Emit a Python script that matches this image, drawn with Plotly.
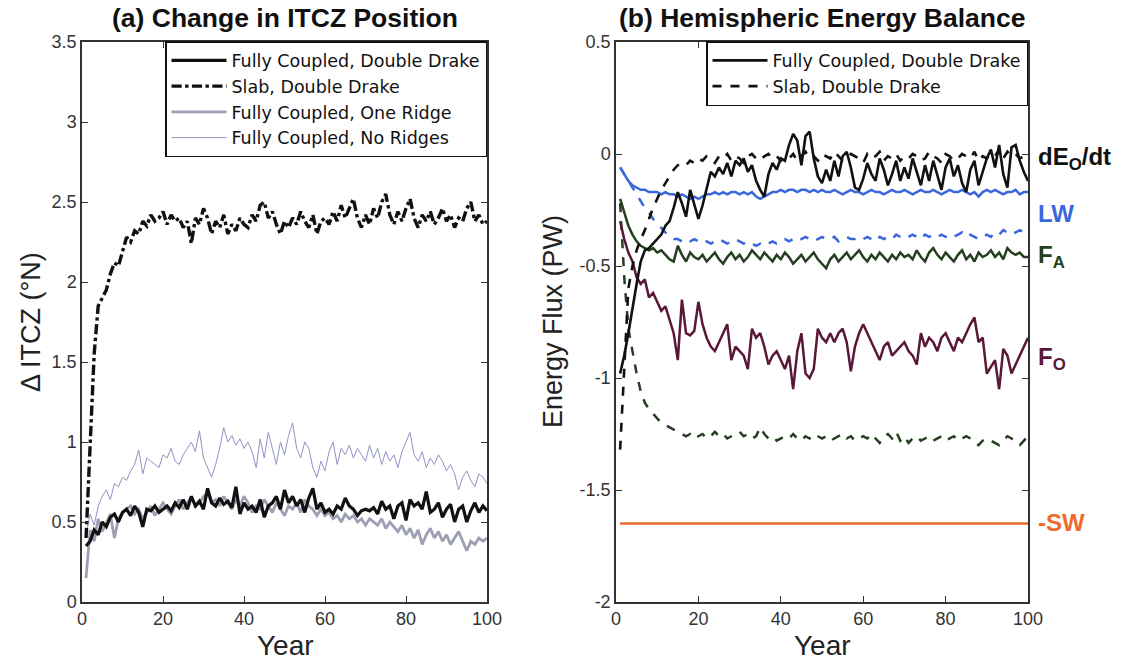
import plotly.graph_objects as go

years = list(range(1, 101))

# ---------------- Panel (a): Change in ITCZ position (deg N) ----------------
fc_double_drake = [0.35,0.38,0.45,0.42,0.50,0.47,0.53,0.55,0.50,0.56,
0.58,0.54,0.60,0.56,0.47,0.58,0.57,0.60,0.56,0.58,
0.60,0.57,0.62,0.59,0.64,0.58,0.66,0.60,0.63,0.58,
0.71,0.62,0.60,0.65,0.61,0.63,0.59,0.72,0.55,0.62,
0.58,0.60,0.56,0.64,0.53,0.60,0.62,0.66,0.58,0.70,
0.62,0.66,0.60,0.64,0.56,0.65,0.71,0.58,0.62,0.56,
0.58,0.55,0.60,0.58,0.65,0.60,0.58,0.54,0.57,0.58,
0.57,0.59,0.55,0.63,0.58,0.60,0.52,0.60,0.62,0.51,
0.64,0.60,0.62,0.58,0.69,0.56,0.58,0.62,0.53,0.58,
0.61,0.50,0.58,0.60,0.50,0.57,0.62,0.56,0.60,0.57]

slab_double_drake = [0.40,0.95,1.55,1.85,1.90,1.95,2.05,2.12,2.10,2.20,
2.28,2.25,2.32,2.30,2.38,2.35,2.42,2.38,2.40,2.44,
2.36,2.42,2.38,2.40,2.34,2.38,2.24,2.40,2.36,2.46,
2.40,2.30,2.38,2.34,2.42,2.30,2.36,2.32,2.40,2.36,
2.34,2.42,2.38,2.48,2.50,2.40,2.44,2.36,2.30,2.38,
2.34,2.40,2.36,2.44,2.38,2.34,2.42,2.30,2.38,2.40,
2.36,2.44,2.38,2.48,2.40,2.46,2.52,2.40,2.34,2.42,
2.36,2.46,2.40,2.50,2.55,2.42,2.36,2.44,2.38,2.46,
2.52,2.40,2.34,2.42,2.38,2.44,2.36,2.40,2.46,2.38,
2.42,2.34,2.40,2.38,2.46,2.50,2.38,2.42,2.36,2.38]

fc_one_ridge = [0.15,0.45,0.38,0.52,0.44,0.50,0.55,0.40,0.52,0.56,
0.58,0.60,0.55,0.58,0.52,0.56,0.60,0.54,0.58,0.62,
0.58,0.55,0.60,0.64,0.58,0.62,0.66,0.60,0.62,0.66,
0.68,0.62,0.64,0.60,0.66,0.62,0.58,0.64,0.60,0.66,
0.62,0.56,0.60,0.58,0.64,0.60,0.56,0.62,0.58,0.54,
0.60,0.58,0.62,0.56,0.64,0.60,0.58,0.54,0.58,0.54,
0.56,0.52,0.54,0.50,0.55,0.52,0.54,0.50,0.52,0.48,
0.52,0.50,0.48,0.52,0.46,0.50,0.47,0.44,0.48,0.42,
0.46,0.40,0.45,0.36,0.42,0.46,0.40,0.44,0.38,0.42,
0.36,0.40,0.44,0.38,0.32,0.38,0.36,0.40,0.38,0.40]

fc_no_ridges = [0.42,0.55,0.48,0.60,0.66,0.70,0.64,0.74,0.72,0.78,
0.76,0.82,0.86,0.95,0.80,0.90,0.88,0.86,0.84,0.92,
0.90,0.96,0.88,0.86,0.92,0.96,1.00,0.94,1.07,0.90,
0.84,0.78,0.86,0.96,1.09,1.00,1.04,0.98,1.02,0.96,
1.00,0.94,0.84,1.02,0.90,1.06,0.96,0.86,1.00,0.92,
1.04,1.12,0.96,0.90,1.00,0.96,0.84,0.78,0.88,0.82,
0.94,1.00,0.86,0.96,0.92,0.98,0.90,0.96,0.92,0.88,
0.98,0.90,0.96,0.86,0.94,0.88,0.92,0.84,0.94,1.00,
1.06,0.92,0.88,0.94,0.84,0.90,0.86,0.92,0.88,0.82,
0.86,0.80,0.70,0.78,0.82,0.76,0.72,0.80,0.78,0.74]

# ---------------- Panel (b): Hemispheric energy balance (PW) ----------------
dedt_fc = [-0.98,-0.90,-0.80,-0.68,-0.58,-0.48,-0.43,-0.42,-0.40,-0.38,
-0.36,-0.32,-0.30,-0.24,-0.17,-0.22,-0.28,-0.16,-0.22,-0.29,
-0.23,-0.15,-0.08,-0.10,-0.06,-0.09,-0.04,-0.10,-0.03,-0.05,
-0.02,-0.08,-0.05,-0.12,-0.16,-0.19,-0.09,-0.04,-0.07,-0.02,
-0.03,0.04,0.09,0.06,-0.05,0.08,0.10,-0.02,-0.10,-0.13,
-0.07,-0.12,-0.03,-0.10,-0.01,0.01,-0.06,-0.15,-0.16,-0.11,
-0.04,-0.09,-0.12,-0.02,-0.07,-0.14,-0.09,-0.03,-0.12,-0.06,
-0.11,-0.02,-0.08,-0.14,-0.05,-0.12,-0.03,-0.10,-0.16,-0.06,
-0.02,-0.10,-0.05,-0.13,-0.17,-0.07,-0.03,-0.14,-0.08,-0.02,
0.02,-0.06,0.04,-0.09,-0.15,0.03,0.04,-0.03,-0.08,-0.12]

dedt_slab = [-1.32,-0.95,-0.60,-0.50,-0.43,-0.38,-0.34,-0.29,-0.24,-0.20,
-0.16,-0.13,-0.10,-0.07,-0.05,-0.04,-0.05,-0.03,-0.04,-0.02,
-0.03,-0.01,-0.02,-0.04,-0.01,-0.02,0.00,-0.03,-0.01,-0.02,
-0.04,-0.01,0.00,-0.02,-0.03,-0.01,0.00,-0.02,-0.01,-0.03,
-0.01,-0.02,0.00,-0.03,-0.01,0.01,-0.02,-0.01,-0.03,0.00,
-0.01,-0.02,0.01,-0.01,-0.03,-0.02,0.00,-0.01,-0.02,-0.04,
0.00,-0.02,-0.01,0.01,-0.03,-0.01,-0.02,0.00,-0.03,-0.01,
-0.02,0.00,-0.01,-0.03,-0.02,0.01,-0.01,-0.02,-0.04,0.00,
-0.01,-0.03,-0.02,0.00,-0.01,-0.02,0.01,-0.03,-0.01,-0.02,
0.00,-0.01,0.02,-0.02,0.01,-0.01,0.00,-0.02,-0.01,-0.02]

lw_fc = [-0.06,-0.09,-0.12,-0.14,-0.15,-0.16,-0.16,-0.17,-0.17,-0.17,
-0.18,-0.17,-0.18,-0.18,-0.19,-0.18,-0.19,-0.20,-0.19,-0.20,
-0.19,-0.18,-0.18,-0.17,-0.18,-0.17,-0.18,-0.17,-0.17,-0.18,
-0.17,-0.18,-0.17,-0.19,-0.20,-0.19,-0.18,-0.17,-0.17,-0.16,
-0.17,-0.16,-0.16,-0.17,-0.16,-0.16,-0.17,-0.16,-0.17,-0.16,
-0.17,-0.17,-0.16,-0.17,-0.18,-0.17,-0.16,-0.17,-0.17,-0.18,
-0.17,-0.16,-0.17,-0.17,-0.18,-0.17,-0.16,-0.17,-0.17,-0.16,
-0.17,-0.18,-0.17,-0.16,-0.17,-0.17,-0.16,-0.17,-0.18,-0.17,
-0.16,-0.17,-0.17,-0.16,-0.17,-0.18,-0.17,-0.19,-0.17,-0.16,
-0.17,-0.16,-0.17,-0.18,-0.17,-0.17,-0.16,-0.18,-0.17,-0.17]

lw_slab = [-0.06,-0.09,-0.12,-0.15,-0.18,-0.21,-0.24,-0.26,-0.29,-0.31,
-0.33,-0.35,-0.37,-0.38,-0.38,-0.39,-0.38,-0.39,-0.38,-0.39,
-0.38,-0.39,-0.40,-0.39,-0.38,-0.39,-0.40,-0.39,-0.38,-0.39,
-0.40,-0.39,-0.40,-0.41,-0.40,-0.41,-0.40,-0.39,-0.40,-0.39,
-0.38,-0.39,-0.38,-0.39,-0.38,-0.37,-0.38,-0.39,-0.38,-0.37,
-0.38,-0.38,-0.37,-0.39,-0.38,-0.37,-0.38,-0.38,-0.37,-0.38,
-0.37,-0.38,-0.39,-0.37,-0.38,-0.37,-0.38,-0.36,-0.37,-0.38,
-0.37,-0.36,-0.37,-0.38,-0.36,-0.37,-0.36,-0.37,-0.36,-0.37,
-0.36,-0.37,-0.36,-0.35,-0.37,-0.36,-0.37,-0.38,-0.37,-0.36,
-0.37,-0.35,-0.36,-0.34,-0.35,-0.36,-0.35,-0.34,-0.35,-0.35]

fa_fc = [-0.20,-0.26,-0.32,-0.36,-0.39,-0.41,-0.42,-0.43,-0.42,-0.44,
-0.43,-0.45,-0.47,-0.48,-0.41,-0.45,-0.48,-0.44,-0.46,-0.47,
-0.45,-0.48,-0.46,-0.44,-0.47,-0.49,-0.46,-0.44,-0.47,-0.45,
-0.48,-0.46,-0.43,-0.45,-0.47,-0.44,-0.46,-0.48,-0.45,-0.47,
-0.44,-0.46,-0.49,-0.47,-0.45,-0.48,-0.46,-0.44,-0.47,-0.49,
-0.51,-0.47,-0.45,-0.48,-0.46,-0.44,-0.47,-0.45,-0.43,-0.46,
-0.48,-0.45,-0.47,-0.44,-0.46,-0.48,-0.45,-0.47,-0.44,-0.46,
-0.45,-0.47,-0.43,-0.46,-0.48,-0.44,-0.42,-0.45,-0.47,-0.44,
-0.46,-0.48,-0.45,-0.43,-0.47,-0.45,-0.48,-0.44,-0.46,-0.45,
-0.43,-0.46,-0.44,-0.47,-0.42,-0.44,-0.45,-0.44,-0.46,-0.46]

fa_slab = [-0.22,-0.55,-0.78,-0.88,-0.98,-1.06,-1.11,-1.14,-1.16,-1.18,
-1.20,-1.21,-1.22,-1.23,-1.24,-1.25,-1.26,-1.25,-1.27,-1.26,
-1.25,-1.27,-1.26,-1.24,-1.26,-1.25,-1.27,-1.26,-1.25,-1.24,
-1.26,-1.25,-1.27,-1.26,-1.22,-1.25,-1.27,-1.26,-1.28,-1.27,
-1.26,-1.27,-1.25,-1.27,-1.28,-1.26,-1.27,-1.25,-1.26,-1.27,
-1.26,-1.28,-1.27,-1.26,-1.25,-1.27,-1.26,-1.28,-1.27,-1.26,
-1.27,-1.25,-1.27,-1.29,-1.26,-1.25,-1.27,-1.24,-1.28,-1.26,
-1.29,-1.27,-1.26,-1.28,-1.27,-1.26,-1.28,-1.27,-1.26,-1.28,
-1.27,-1.26,-1.28,-1.27,-1.26,-1.27,-1.29,-1.30,-1.28,-1.27,
-1.28,-1.29,-1.30,-1.28,-1.26,-1.27,-1.29,-1.30,-1.28,-1.26]

fo_fc = [-0.30,-0.38,-0.44,-0.48,-0.55,-0.58,-0.56,-0.64,-0.62,-0.66,
-0.70,-0.68,-0.74,-0.80,-0.92,-0.65,-0.80,-0.81,-0.79,-0.66,
-0.76,-0.82,-0.86,-0.88,-0.84,-0.80,-0.76,-0.92,-0.86,-0.88,
-0.90,-0.96,-0.78,-0.82,-0.80,-0.86,-0.94,-0.90,-0.88,-0.92,
-0.96,-0.90,-1.05,-0.88,-0.80,-0.98,-1.00,-0.96,-0.78,-0.82,
-0.84,-0.80,-0.84,-0.80,-0.78,-0.84,-0.97,-0.86,-0.80,-0.76,
-0.80,-0.84,-0.88,-0.92,-0.86,-0.84,-0.90,-0.88,-0.86,-0.84,
-0.88,-0.90,-0.94,-0.80,-0.86,-0.82,-0.84,-0.88,-0.82,-0.80,
-0.84,-0.88,-0.82,-0.84,-0.80,-0.76,-0.73,-0.84,-0.82,-0.98,
-0.95,-0.92,-1.05,-0.87,-0.90,-0.98,-0.94,-0.90,-0.86,-0.82]

sw_years = [1, 100]
neg_sw = [-1.65, -1.65]

# tick labels
x_ticks = [0, 20, 40, 60, 80, 100]
x_ticktext = ["0", "20", "40", "60", "80", "100"]
ya_ticks = [0, 0.5, 1, 1.5, 2, 2.5, 3, 3.5]
ya_ticktext = ["0", "0.5", "1", "1.5", "2", "2.5", "3", "3.5"]
yb_ticks = [-2, -1.5, -1, -0.5, 0, 0.5]
yb_ticktext = ["-2", "-1.5", "-1", "-0.5", "0", "0.5"]

FONT = "Liberation Sans, Arial, Helvetica, sans-serif"
LEGFONT = "DejaVu Sans, Liberation Sans, sans-serif"
BLACK = "#111111"
BLUE = "#3a68dc"
GREEN = "#253f20"
MAROON = "#5a1838"
ORANGE = "#ee6a2c"

fig = go.Figure()

# panel (a)
fig.add_trace(go.Scatter(x=years, y=fc_no_ridges, mode="lines", name="Fully Coupled, No Ridges",
                         line=dict(color="#8f93c4", width=1), xaxis="x", yaxis="y",
                         legend="legend", legendrank=4))
fig.add_trace(go.Scatter(x=years, y=fc_one_ridge, mode="lines", name="Fully Coupled, One Ridge",
                         line=dict(color="#9d9fb2", width=2.8), xaxis="x", yaxis="y",
                         legend="legend", legendrank=3))
fig.add_trace(go.Scatter(x=years, y=fc_double_drake, mode="lines", name="Fully Coupled, Double Drake",
                         line=dict(color=BLACK, width=3.2), xaxis="x", yaxis="y",
                         legend="legend", legendrank=1))
fig.add_trace(go.Scatter(x=years, y=slab_double_drake, mode="lines", name="Slab, Double Drake",
                         line=dict(color=BLACK, width=3.4, dash="dashdot"), xaxis="x", yaxis="y",
                         legend="legend", legendrank=2))

# panel (b)
fig.add_trace(go.Scatter(x=sw_years, y=neg_sw, mode="lines", showlegend=False,
                         line=dict(color=ORANGE, width=2.5), xaxis="x2", yaxis="y2"))
fig.add_trace(go.Scatter(x=years, y=fa_slab, mode="lines", showlegend=False,
                         line=dict(color=GREEN, width=2.5, dash="dash"), xaxis="x2", yaxis="y2"))
fig.add_trace(go.Scatter(x=years, y=lw_slab, mode="lines", showlegend=False,
                         line=dict(color=BLUE, width=2.5, dash="dash"), xaxis="x2", yaxis="y2"))
fig.add_trace(go.Scatter(x=years, y=fo_fc, mode="lines", showlegend=False,
                         line=dict(color=MAROON, width=2.5), xaxis="x2", yaxis="y2"))
fig.add_trace(go.Scatter(x=years, y=fa_fc, mode="lines", showlegend=False,
                         line=dict(color=GREEN, width=2.5), xaxis="x2", yaxis="y2"))
fig.add_trace(go.Scatter(x=years, y=lw_fc, mode="lines", showlegend=False,
                         line=dict(color=BLUE, width=2.5), xaxis="x2", yaxis="y2"))
fig.add_trace(go.Scatter(x=years, y=dedt_slab, mode="lines", name="Slab, Double Drake",
                         line=dict(color=BLACK, width=2.6, dash="dash"), xaxis="x2", yaxis="y2",
                         legend="legend2", legendrank=2))
fig.add_trace(go.Scatter(x=years, y=dedt_fc, mode="lines", name="Fully Coupled, Double Drake",
                         line=dict(color=BLACK, width=2.6), xaxis="x2", yaxis="y2",
                         legend="legend2", legendrank=1))

axis_common = dict(showline=True, mirror="ticks", linecolor="#333333", linewidth=1.5,
                   ticks="inside", ticklen=6, tickwidth=1.2, tickcolor="#333333",
                   showgrid=False, zeroline=False, automargin=False,
                   tickfont=dict(family=FONT, size=18, color="#333333"))

legend_common = dict(xanchor="right", yanchor="top", traceorder="normal",
                     bgcolor="white", bordercolor=BLACK, borderwidth=1.5,
                     font=dict(family=LEGFONT, size=17.5, color=BLACK), itemwidth=55, tracegroupgap=0)

fig.update_layout(
    template="none",
    width=1130, height=660,
    margin=dict(l=0, r=0, t=0, b=0, pad=0, autoexpand=False),
    paper_bgcolor="white", plot_bgcolor="white",
    font=dict(family=FONT, color=BLACK),
    xaxis=dict(domain=[82/1130, 487/1130], range=[0, 100], tickvals=x_ticks, ticktext=x_ticktext,
               anchor="y", **axis_common),
    yaxis=dict(domain=[1-602/660, 1-42/660], range=[0, 3.5], tickvals=ya_ticks, ticktext=ya_ticktext,
               anchor="x", **axis_common),
    xaxis2=dict(domain=[616/1130, 1028/1130], range=[0, 100], tickvals=x_ticks, ticktext=x_ticktext,
                anchor="y2", **axis_common),
    yaxis2=dict(domain=[1-602/660, 1-42/660], range=[-2, 0.5], tickvals=yb_ticks, ticktext=yb_ticktext,
                anchor="x2", **axis_common),
    legend=dict(x=487/1130, y=1-41/660, **legend_common),
    legend2=dict(x=1028/1130, y=1-41/660, **legend_common),
    showlegend=True,
)

ann = []
# titles
ann.append(dict(text="<b>(a) Change in ITCZ Position</b>", x=285/1130, y=1-18/660, xref="paper", yref="paper",
                showarrow=False, font=dict(family=FONT, size=26.5, color=BLACK), xanchor="center", yanchor="middle"))
ann.append(dict(text="<b>(b) Hemispheric Energy Balance</b>", x=822/1130, y=1-18/660, xref="paper", yref="paper",
                showarrow=False, font=dict(family=FONT, size=26.5, color=BLACK), xanchor="center", yanchor="middle"))
# axis titles
ann.append(dict(text="Δ ITCZ (°N)", x=31/1130, y=1-322/660, xref="paper", yref="paper", textangle=-90,
                showarrow=False, font=dict(family=FONT, size=27, color="#222222"), xanchor="center", yanchor="middle"))
ann.append(dict(text="Energy Flux (PW)", x=553/1130, y=1-322/660, xref="paper", yref="paper", textangle=-90,
                showarrow=False, font=dict(family=FONT, size=27, color="#222222"), xanchor="center", yanchor="middle"))
ann.append(dict(text="Year", x=285/1130, y=1-645/660, xref="paper", yref="paper",
                showarrow=False, font=dict(family=FONT, size=28, color="#222222"), xanchor="center", yanchor="middle"))
ann.append(dict(text="Year", x=822/1130, y=1-645/660, xref="paper", yref="paper",
                showarrow=False, font=dict(family=FONT, size=28, color="#222222"), xanchor="center", yanchor="middle"))
# curve labels
labels = [("<b>dE<sub>O</sub>/dt</b>", 158, BLACK), ("<b>LW</b>", 213, BLUE), ("<b>F<sub>A</sub></b>", 256, GREEN),
          ("<b>F<sub>O</sub></b>", 358, MAROON), ("<b>-SW</b>", 522, ORANGE)]
for txt, ypx, col in labels:
    ann.append(dict(text=txt, x=1036/1130, y=1-ypx/660, xref="paper", yref="paper", showarrow=False,
                    font=dict(family=FONT, size=24, color=col), xanchor="left", yanchor="middle"))
fig.update_layout(annotations=ann)

fig.write_html("out.html")
